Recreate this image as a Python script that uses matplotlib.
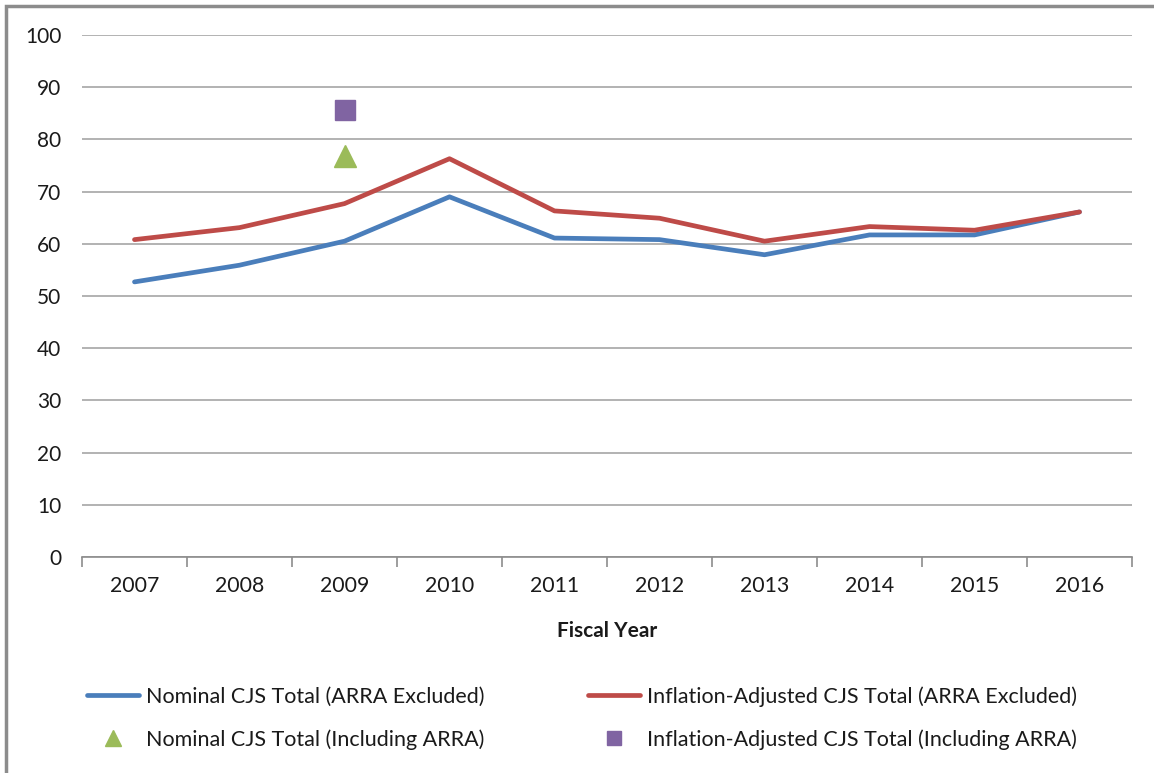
import matplotlib
matplotlib.use("Agg")
import matplotlib.pyplot as plt
from matplotlib.lines import Line2D
from matplotlib.patches import Rectangle

years = ["2007", "2008", "2009", "2010", "2011", "2012", "2013", "2014", "2015", "2016"]
nominal = [52.7, 55.9, 60.5, 69.0, 61.1, 60.8, 57.9, 61.7, 61.7, 66.1]
inflation = [60.8, 63.1, 67.7, 76.3, 66.3, 64.9, 60.5, 63.3, 62.6, 66.1]
arra_year = "2009"
nominal_arra = 76.8
inflation_arra = 85.6

plt.rcParams['font.family'] = ['Lato', 'DejaVu Sans']

fig = plt.figure(figsize=(11.54, 7.73), dpi=100)
ax = fig.add_axes([82/1154, 1-557/773, (1132-82)/1154, (557-35)/773])

x = list(range(len(years)))
c_blue = "#4A7EBB"
c_red = "#BE4B48"
c_green = "#9BBB59"
c_purple = "#8064A2"
txt = "#1a1a1a"

ax.plot(x, nominal, color=c_blue, lw=3.4, solid_capstyle='round', solid_joinstyle='round', zorder=3)
ax.plot(x, inflation, color=c_red, lw=3.4, solid_capstyle='round', solid_joinstyle='round', zorder=3)
xi = years.index(arra_year)
ax.plot([xi], [nominal_arra], marker='^', ms=16, color=c_green, ls='none', zorder=4)
ax.plot([xi], [inflation_arra], marker='s', ms=15, color=c_purple, ls='none', zorder=4)

ax.set_xlim(-0.5, len(years)-0.5)
ax.set_ylim(0, 100)
ax.set_yticks(range(0, 101, 10))
ax.yaxis.grid(True, color="#A6A6A6", lw=1.2)
ax.set_axisbelow(True)
for s in ['left', 'right', 'top']:
    ax.spines[s].set_visible(False)
ax.spines['bottom'].set_color("#8C8C8C")
ax.spines['bottom'].set_linewidth(1.2)
ax.tick_params(axis='y', length=0, pad=15, labelsize=15, labelcolor=txt)
ax.set_xticks(x)
ax.set_xticklabels(years)
ax.tick_params(axis='x', which='major', length=0, pad=14, labelsize=15.3, labelcolor=txt)
ax.set_xticks([i - 0.5 for i in range(len(years)+1)], minor=True)
ax.tick_params(axis='x', which='minor', length=7, width=1.2, color="#8C8C8C", direction='out')
ax.set_xlabel("Fiscal Year", fontsize=15, fontweight='bold', labelpad=18, color=txt)

h_nom = Line2D([], [], color=c_blue, lw=3.4, solid_capstyle='round')
h_nom_m = Line2D([], [], marker='^', ms=11, color=c_green, ls='none')
h_inf = Line2D([], [], color=c_red, lw=3.4, solid_capstyle='round')
h_inf_m = Line2D([], [], marker='s', ms=10, color=c_purple, ls='none')

common = dict(frameon=False, fontsize=15.5, handlelength=2.4, handletextpad=0.33,
              labelspacing=1.05, borderpad=0, borderaxespad=0, labelcolor=txt)
leg1 = fig.legend([h_nom, h_nom_m],
                  ["Nominal CJS Total (ARRA Excluded)", "Nominal CJS Total (Including ARRA)"],
                  loc='center left', bbox_to_anchor=(87/1154, 1-718/773), **common)
leg2 = fig.legend([h_inf, h_inf_m],
                  ["Inflation-Adjusted CJS Total (ARRA Excluded)", "Inflation-Adjusted CJS Total (Including ARRA)"],
                  loc='center left', bbox_to_anchor=(588/1154, 1-718/773), **common)

fig.patches.append(Rectangle((6/1154, -0.1), 1.2, 1-6/773+0.1, transform=fig.transFigure,
                             fill=False, edgecolor="#8C8C8C", lw=2.5, zorder=10))

fig.savefig("out.png", dpi=100)
